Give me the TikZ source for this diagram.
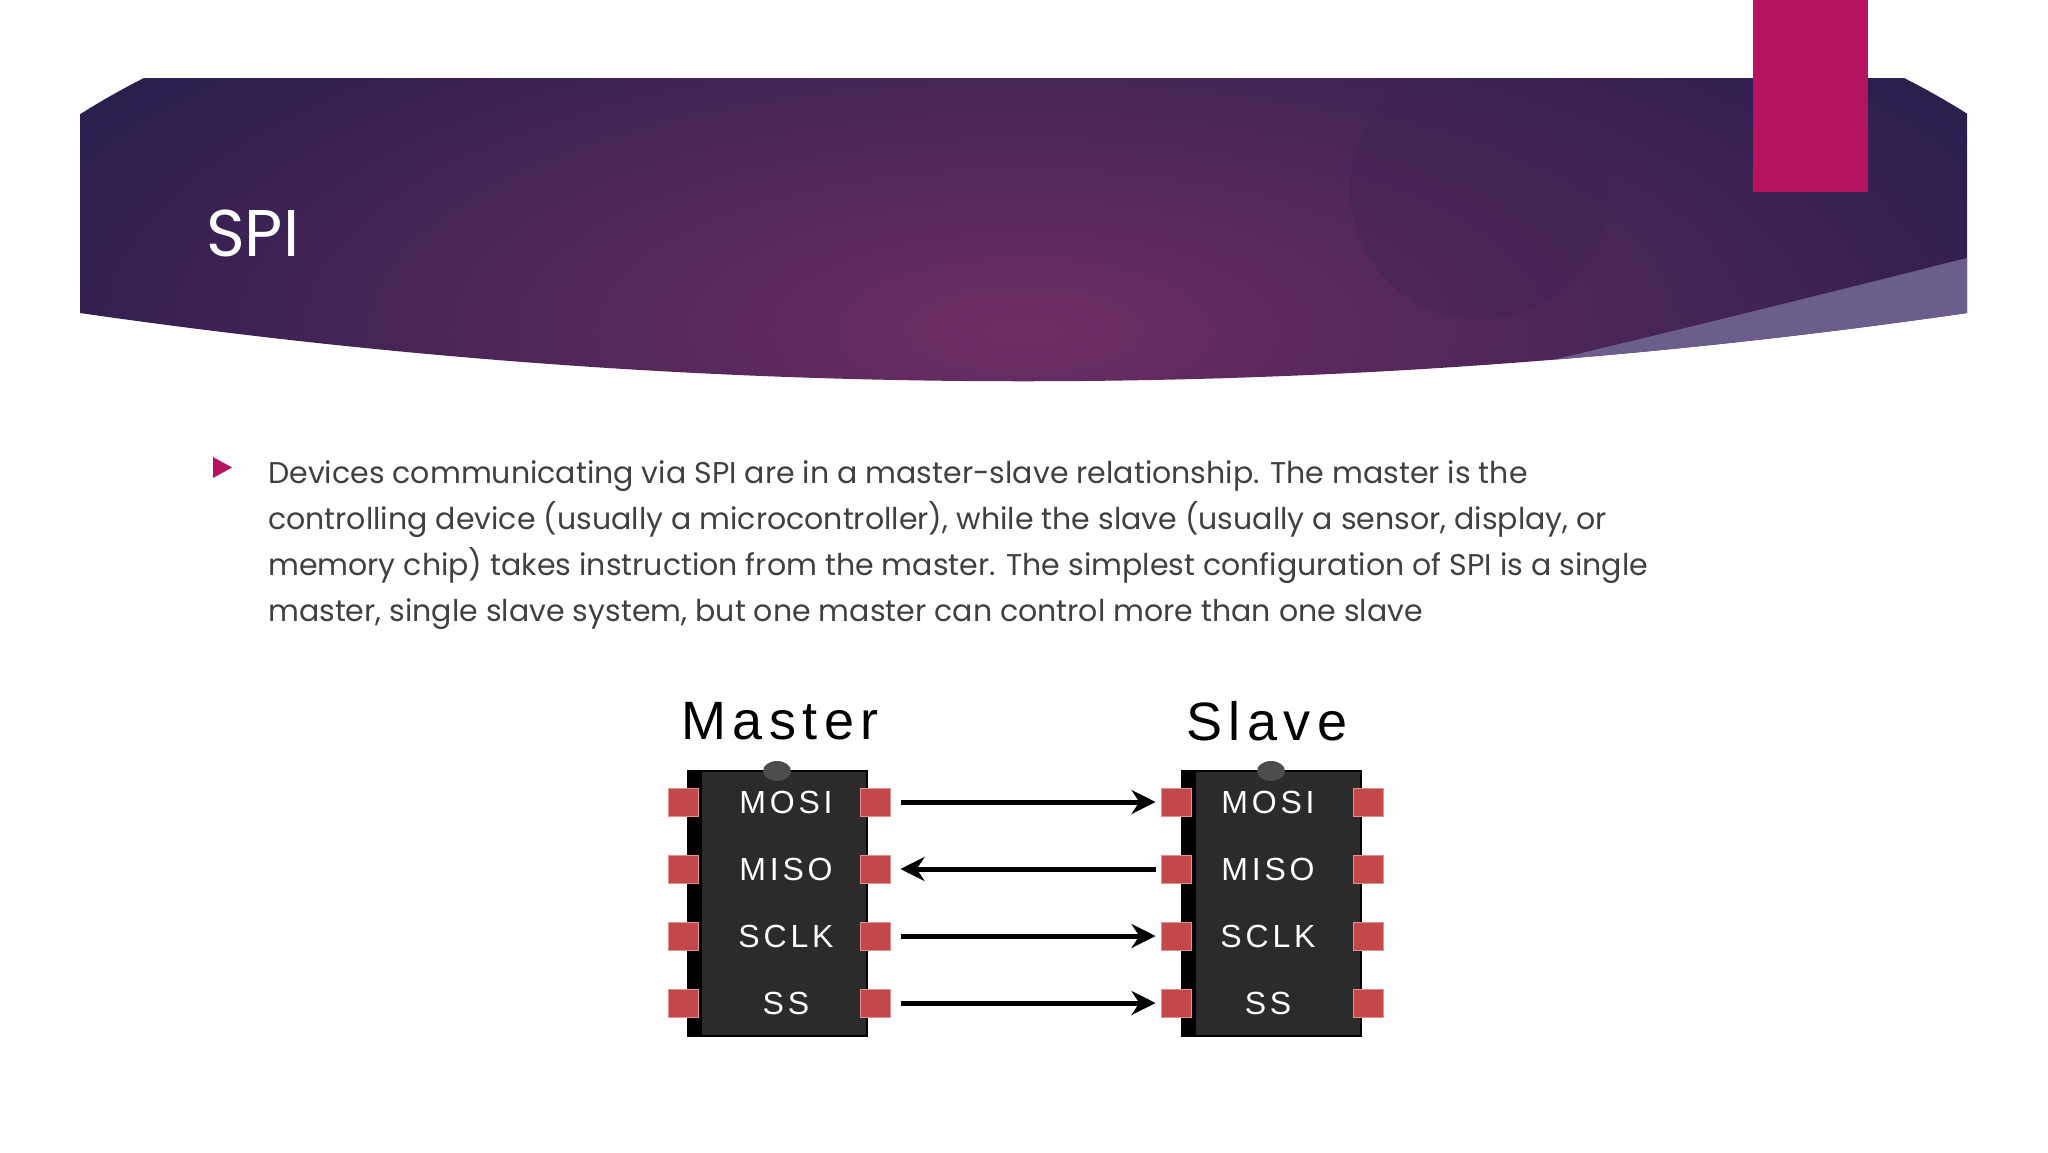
\documentclass[tikz,border=0pt]{standalone}
\usepackage{fontspec}
\setmainfont{Poppins}
\newfontfamily\chipfont[LetterSpace=12]{Liberation Sans}
\usetikzlibrary{arrows.meta}
\definecolor{navy}{HTML}{2A1F4E}
\definecolor{plum}{HTML}{6E2D63}
\definecolor{band}{HTML}{6B5E8C}
\definecolor{pinkacc}{HTML}{B5135F}
\definecolor{bodytxt}{HTML}{404040}
\definecolor{pad}{HTML}{C4474A}
\definecolor{chipbody}{HTML}{2B2B2B}
\tikzset{
  chip/.style={fill=chipbody, draw=black, line width=2pt},
  padbox/.style={fill=pad, draw=pad!60, line width=1pt, minimum width=30pt, minimum height=28pt, inner sep=0pt},
  pinlbl/.style={text=white, font=\chipfont\fontsize{32}{32}\selectfont, anchor=center},
  bodyline/.style={anchor=base west, text=bodytxt, font=\fontsize{30}{36}\selectfont, inner sep=0pt},
  sig/.style={line width=5pt, -{Stealth[length=24pt,width=24pt]}},
  hdr/.style={font=\chipfont\fontsize{54}{54}\selectfont, text=black}
}
\begin{document}
\begin{tikzpicture}[x=1pt,y=-1pt]
\useasboundingbox (0,0) rectangle (2048,1152);
\fill[white] (0,0) rectangle (2048,1152);
% banner
\begin{scope}
\clip (80,78) -- (1967,78) -- (1967,313) .. controls (1337,404) and (710,404) .. (80,313) -- cycle;
\shade[inner color=plum, outer color=navy] (1024,330) ellipse (1100 and 420);
\fill[navy!70!plum, opacity=0.35] (1480,190) circle (130);
\fill[band] (1967,258) .. controls (1800,300) and (1600,350) .. (1380,400) -- (1967,400) -- cycle;
\end{scope}
\fill[pinkacc] (1753,0) rectangle (1868,192);
\node[anchor=base west, text=white, font=\fontsize{66}{66}\selectfont, inner sep=0pt] (title) at (206,256) {SPI};
% bullet
\fill[pinkacc] (213,457) -- (232,467.5) -- (213,478) -- cycle;
\node[bodyline] (l1) at (268,483) {Devices communicating via SPI are in a master-slave relationship. The master is the};
\node[bodyline] (l2) at (268,529) {controlling device (usually a microcontroller), while the slave (usually a sensor, display, or};
\node[bodyline] (l3) at (268,575) {memory chip) takes instruction from the master. The simplest configuration of SPI is a single};
\node[bodyline] (l4) at (268,621) {master, single slave system, but one master can control more than one slave};
% headers
\node[hdr] (mh) at (780,721) {Master};
\node[hdr] (sh) at (1267,721) {Slave};
% chips
\foreach \cx/\nm in {688/m,1182/s}{
  \draw[chip] (\cx,771) rectangle (\cx+179,1036);
  \fill[black] (\cx,771) rectangle (\cx+14,1036);
  \fill[black!70] (\cx+89,771) ellipse (14 and 10);
}
\foreach \y/\n/\t in {802/1/MOSI,869/2/MISO,936/3/SCLK,1003/4/SS/CS}{
  \node[padbox] (mL\n) at (683,\y) {};
  \node[padbox] (mR\n) at (875,\y) {};
  \node[padbox] (sL\n) at (1176,\y) {};
  \node[padbox] (sR\n) at (1368,\y) {};
  \node[pinlbl] (mt\n) at (786,\y) {\t};
  \node[pinlbl] (st\n) at (1268,\y) {\t};
}
\draw[sig] (mR1.east) ++(10,0) coordinate (a1) (a1) -- ([xshift=-5pt]sL1.west);
\draw[sig] (sL2.west) ++(-5,0) coordinate (a2) (a2) -- ([xshift=10pt]mR2.east);
\draw[sig] (mR3.east) ++(10,0) coordinate (a3) (a3) -- ([xshift=-5pt]sL3.west);
\draw[sig] (mR4.east) ++(10,0) coordinate (a4) (a4) -- ([xshift=-5pt]sL4.west);
\end{tikzpicture}
\end{document}
